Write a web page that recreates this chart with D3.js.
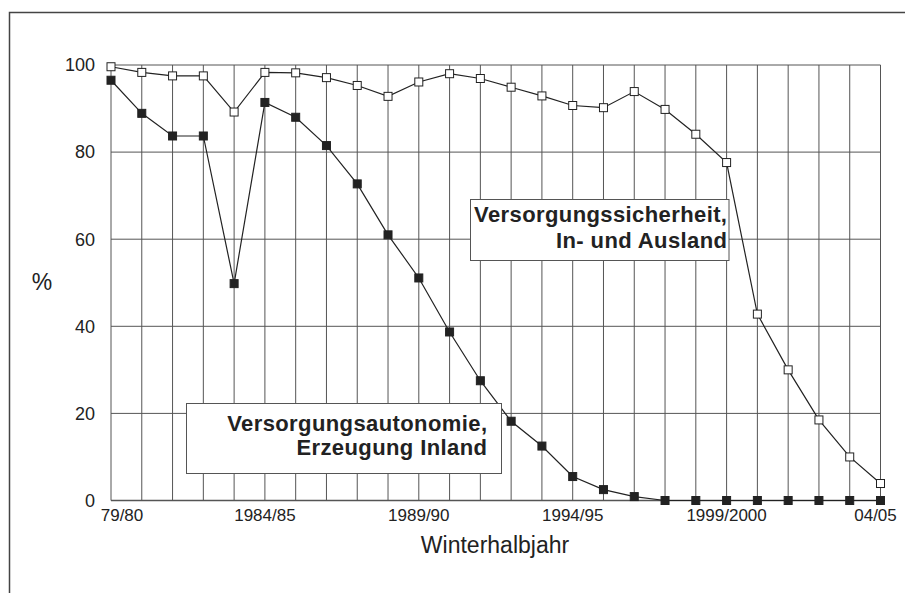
<!DOCTYPE html>
<html>
<head>
<meta charset="utf-8">
<script src="https://cdn.jsdelivr.net/npm/d3@7"></script>
<style>
  body { margin: 0; background: #fff; }
  svg { display: block; font-family: "Liberation Sans", Arial, sans-serif; }
</style>
</head>
<body>
<div id="chart"></div>
<script>
let seasons = ["79/80", "80/81", "81/82", "82/83", "83/84", "84/85", "85/86", "86/87", "87/88",
    "88/89", "89/90", "90/91", "91/92", "92/93", "93/94", "94/95", "95/96", "96/97", "97/98",
    "98/99", "99/00", "00/01", "01/02", "02/03", "03/04", "04/05"];

// Versorgungssicherheit, In- und Ausland (white squares)
let sicherheit = [99.6, 98.3, 97.5, 97.5, 89.2, 98.3, 98.2, 97.1, 95.3, 92.8, 96.1, 98.0, 96.9,
    94.9, 92.9, 90.7, 90.2, 93.9, 89.8, 84.1, 77.6, 42.8, 30.0, 18.5, 10.0, 3.9];

// Versorgungsautonomie, Erzeugung Inland (black squares)
let autonomie = [96.5, 88.9, 83.7, 83.7, 49.8, 91.4, 88.0, 81.5, 72.7, 61.0, 51.1, 38.7, 27.5,
    18.2, 12.5, 5.5, 2.5, 0.9, 0, 0, 0, 0, 0, 0, 0, 0];

let yTicks = [0, 20, 40, 60, 80, 100];
let xTickLabels = [
    {season: "79/80", text: "79/80", dx: 11},
    {season: "84/85", text: "1984/85", dx: 0},
    {season: "89/90", text: "1989/90", dx: 0},
    {season: "94/95", text: "1994/95", dx: 0},
    {season: "99/00", text: "1999/2000", dx: 0},
    {season: "04/05", text: "04/05", dx: -5}
];

let ink = "#222";
let gridColor = "#555";

let width = 905,
    height = 593;

let svg = d3.select("#chart")
    .append("svg")
    .attr("width", width)
    .attr("height", height);

// outer frame (runs off the right and bottom edge)
svg.append("rect")
    .attr("x", 9.5)
    .attr("y", 12.5)
    .attr("width", width + 20)
    .attr("height", height + 20)
    .style("fill", "none")
    .style("stroke", "#444")
    .style("stroke-width", 1.5);

let x = d3.scalePoint()
    .domain(seasons)
    .range([111, 880.5]);

let y = d3.scaleLinear()
    .domain([0, 100])
    .range([500.5, 65]);

let g = svg.append("g");

// grid
g.selectAll(".vgrid")
    .data(seasons)
    .enter()
    .append("line")
    .attr("class", "vgrid")
    .attr("x1", function(d) { return x(d); })
    .attr("x2", function(d) { return x(d); })
    .attr("y1", y(0))
    .attr("y2", y(100))
    .style("stroke", gridColor)
    .style("stroke-width", 1);

g.selectAll(".hgrid")
    .data(yTicks)
    .enter()
    .append("line")
    .attr("class", "hgrid")
    .attr("x1", x.range()[0])
    .attr("x2", x.range()[1])
    .attr("y1", function(d) { return y(d); })
    .attr("y2", function(d) { return y(d); })
    .style("stroke", gridColor)
    .style("stroke-width", function(d) { return d === 0 ? 1.5 : 1; });

// y tick labels
g.selectAll(".ylabel")
    .data(yTicks)
    .enter()
    .append("text")
    .attr("class", "ylabel")
    .attr("x", 95)
    .attr("y", function(d) { return y(d); })
    .attr("dy", "0.35em")
    .attr("text-anchor", "end")
    .style("font-size", "18px")
    .style("fill", ink)
    .text(function(d) { return d; });

// x tick labels
g.selectAll(".xlabel")
    .data(xTickLabels)
    .enter()
    .append("text")
    .attr("class", "xlabel")
    .attr("x", function(d) { return x(d.season) + d.dx; })
    .attr("y", 521)
    .attr("text-anchor", "middle")
    .style("font-size", "17px")
    .style("fill", ink)
    .text(function(d) { return d.text; });

// axis titles
svg.append("text")
    .attr("x", 42)
    .attr("y", 290)
    .attr("text-anchor", "middle")
    .style("font-size", "23px")
    .style("fill", ink)
    .text("%");

svg.append("text")
    .attr("x", 495)
    .attr("y", 553)
    .attr("text-anchor", "middle")
    .style("font-size", "23px")
    .style("fill", ink)
    .text("Winterhalbjahr");

let line = d3.line()
    .x(function(d, i) { return x(seasons[i]); })
    .y(function(d) { return y(d); });

function drawSeries(values, fill) {
    g.append("path")
        .datum(values)
        .attr("d", line)
        .style("fill", "none")
        .style("stroke", ink)
        .style("stroke-width", 1.2);

    g.selectAll(null)
        .data(values)
        .enter()
        .append("rect")
        .attr("x", function(d, i) { return x(seasons[i]) - 4; })
        .attr("y", function(d) { return y(d) - 4; })
        .attr("width", 8)
        .attr("height", 8)
        .style("fill", fill)
        .style("stroke", ink)
        .style("stroke-width", 1);
}

drawSeries(autonomie, ink);
drawSeries(sicherheit, "#fff");

// label boxes
let boxes = [
    {x: 470.5, y: 199.5, w: 258.5, h: 61, tx: 727, lines: ["Versorgungssicherheit,", "In- und Ausland"], base: 222, step: 26},
    {x: 186.5, y: 403.5, w: 315, h: 70, tx: 487, lines: ["Versorgungsautonomie,", "Erzeugung Inland"], base: 431, step: 24}
];

boxes.forEach(function(b) {
    g.append("rect")
        .attr("x", b.x)
        .attr("y", b.y)
        .attr("width", b.w)
        .attr("height", b.h)
        .style("fill", "#fff")
        .style("stroke", gridColor)
        .style("stroke-width", 1);

    g.selectAll(null)
        .data(b.lines)
        .enter()
        .append("text")
        .attr("x", b.tx + 0.4)
        .attr("y", function(d, i) { return b.base + i * b.step; })
        .attr("text-anchor", "end")
        .style("font-size", "22px")
        .style("font-weight", "bold")
        .style("letter-spacing", "0.4px")
        .style("fill", ink)
        .text(function(d) { return d; });
});
</script>
</body>
</html>
